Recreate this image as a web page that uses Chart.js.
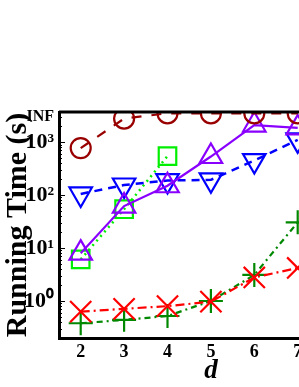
<!DOCTYPE html>
<html>
<head>
<meta charset="utf-8">
<script src="https://cdn.jsdelivr.net/npm/chart.js@4/dist/chart.umd.min.js"></script>
<style>
html,body{margin:0;padding:0;background:#fff;overflow:hidden;}
#wrap{width:380px;height:387px;}
</style>
</head>
<body>
<div id="wrap"><canvas id="c" width="380" height="387"></canvas></div>
<script>
// ---- data ----
const dValues = [2, 3, 4, 5, 6, 7];
const xTickValues = [2, 3, 4, 5, 6, 7, 8];
const INF = 3500;             // value plotted for "INF" (timed out) runs
const INF_TICK = 3000;        // where the "INF" tick label sits
const yMajorTicks = [1, 10, 100, 1000];
const yMajorLabels = ['10\u2070', '10\u00B9', '10\u00B2', '10\u00B3'];
const yMinorTicks = [0.2,0.3,0.4,0.5,0.6,0.7,0.8,0.9, 2,3,4,5,6,7,8,9, 20,30,40,50,60,70,80,90, 200,300,400,500,600,700,800,900, 2000];

const circleSeries   = [770, 2780, INF, INF, INF, INF];
const upTriSeries    = [8, 62, 150, 534, 2100, 1850];
const downTriSeries  = [105, 155, 188, 194, 448, 1100];
const squareSeries   = [6.1, 54, 545, null, null, null];
const xSeries        = [0.63, 0.71, 0.80, 0.97, 2.78, 4.2];
const plusSeries     = [0.38, 0.44, 0.52, 1.0, 3.1, 30.6];

function pts(arr){ return dValues.map((d,i)=>({x:d, y:arr[i]})).filter(p=>p.y!==null); }
const serif = "'Liberation Serif','Times New Roman',serif";

const clipToArea = {
  id: 'clipToArea',
  beforeDatasetsDraw(chart){
    const {ctx, chartArea:a} = chart;
    ctx.save();
    ctx.beginPath();
    ctx.rect(a.left, a.top, a.right - a.left, a.bottom - a.top);
    ctx.clip();
  },
  afterDatasetsDraw(chart){ chart.ctx.restore(); }
};

const frameAndTicks = {
  id: 'frameAndTicks',
  afterDraw(chart){
    const {ctx, chartArea:a, scales} = chart;
    const y = scales.y;
    ctx.save();
    ctx.strokeStyle = '#000';
    ctx.lineWidth = 1;
    const all = yMajorTicks.map(v=>[v,6]).concat(yMinorTicks.map(v=>[v,3])).concat([[INF_TICK,3]]);
    all.forEach(([v,len])=>{
      const py = Math.round(y.getPixelForValue(v)) + 0.5;
      ctx.beginPath(); ctx.moveTo(a.left, py); ctx.lineTo(a.left + len, py); ctx.stroke();
    });
    ctx.lineWidth = 3;
    ctx.beginPath(); ctx.moveTo(a.left, a.top); ctx.lineTo(a.right, a.top); ctx.lineTo(a.right, a.bottom); ctx.stroke();
    ctx.restore();
  }
};

new Chart(document.getElementById('c'), {
  type: 'line',
  data: { datasets: [
      { data: pts(circleSeries), borderColor:'#990000', pointBorderColor:'#990000', borderDash:[10,10], borderWidth:2.2,
        pointStyle:'circle', pointRadius:10, pointBorderWidth:2.2, pointBackgroundColor:'rgba(0,0,0,0)', clip:0 },
      { data: pts(upTriSeries), borderColor:'#8a00ff', pointBorderColor:'#8a00ff', borderWidth:2.2,
        pointStyle:'triangle', pointRadius:13, pointBorderWidth:2.2, pointBackgroundColor:'rgba(0,0,0,0)', clip:0 },
      { data: pts(downTriSeries), borderColor:'#0000ff', pointBorderColor:'#0000ff', borderDash:[8,6], borderWidth:2.5,
        pointStyle:'triangle', pointRotation:180, pointRadius:13, pointBorderWidth:2.2, pointBackgroundColor:'rgba(0,0,0,0)', clip:0 },
      { data: pts(squareSeries), borderColor:'#00ee00', pointBorderColor:'#00ee00', borderDash:[2,4], borderWidth:2.5,
        pointStyle:'rect', pointRadius:12.4, pointBorderWidth:2.2, pointBackgroundColor:'rgba(0,0,0,0)', clip:0 },
      { data: pts(xSeries), borderColor:'#ff0000', pointBorderColor:'#ff0000', borderDash:[9,4,2,4], borderWidth:2.2,
        pointStyle:'crossRot', pointRadius:15, pointBorderWidth:2.2, clip:0 },
      { data: pts(plusSeries), borderColor:'#008800', pointBorderColor:'#008800', borderDash:[6,4,2,4], borderWidth:2.2,
        pointStyle:'cross', pointRadius:12, pointBorderWidth:2.2, clip:0 }
  ]},
  options: {
    responsive: false, devicePixelRatio: 1, animation: false,
    layout: { padding: { top: 112, right: 9, left: 0, bottom: 0 } },
    plugins: { legend: { display:false }, tooltip: { enabled:false } },
    scales: {
      x: { type: 'linear', min: 1.5, max: 8.5,
        grid: { display:false, drawTicks:false, tickLength:0 },
        border: { display:true, color:'#000', width:3 },
        afterBuildTicks: s => { s.ticks = xTickValues.map(v=>({value:v})); },
        afterFit: s => { s.height = 49; },
        ticks: { color:'#000', padding:4, autoSkip:false, maxRotation:0,
                 font:{ family:serif, size:18, weight:'bold' }, callback: v => String(v) },
        title: { display:true, text:'d', color:'#000', padding:{top:0,bottom:0},
                 font:{ family:serif, size:27, weight:'bold', style:'italic' } } },
      y: { type: 'logarithmic', min: 0.2, max: 3700,
        grid: { display:false, drawTicks:false, tickLength:0 },
        border: { display:true, color:'#000', width:3 },
        afterBuildTicks: s => { s.ticks = yMajorTicks.concat(yMinorTicks).concat([INF_TICK]).sort((a,b)=>a-b).map(v=>({value:v})); },
        afterFit: s => { s.width = 59; },
        ticks: { color:'#000', padding:5, autoSkip:false,
                 font: ctx => ({ family:serif, size: (ctx.tick && ctx.tick.value===INF_TICK) ? 16 : 22, weight:'bold' }),
                 callback: v => { if (v === INF_TICK) return 'INF'; const i = yMajorTicks.indexOf(v); return i >= 0 ? yMajorLabels[i] : ''; } },
        title: { display:true, text:'Running Time (s)', color:'#000', padding:{top:0,bottom:0},
                 font:{ family:serif, size:30, weight:'bold' } } }
    }
  },
  plugins: [clipToArea, frameAndTicks]
});
</script>
</body>
</html>
